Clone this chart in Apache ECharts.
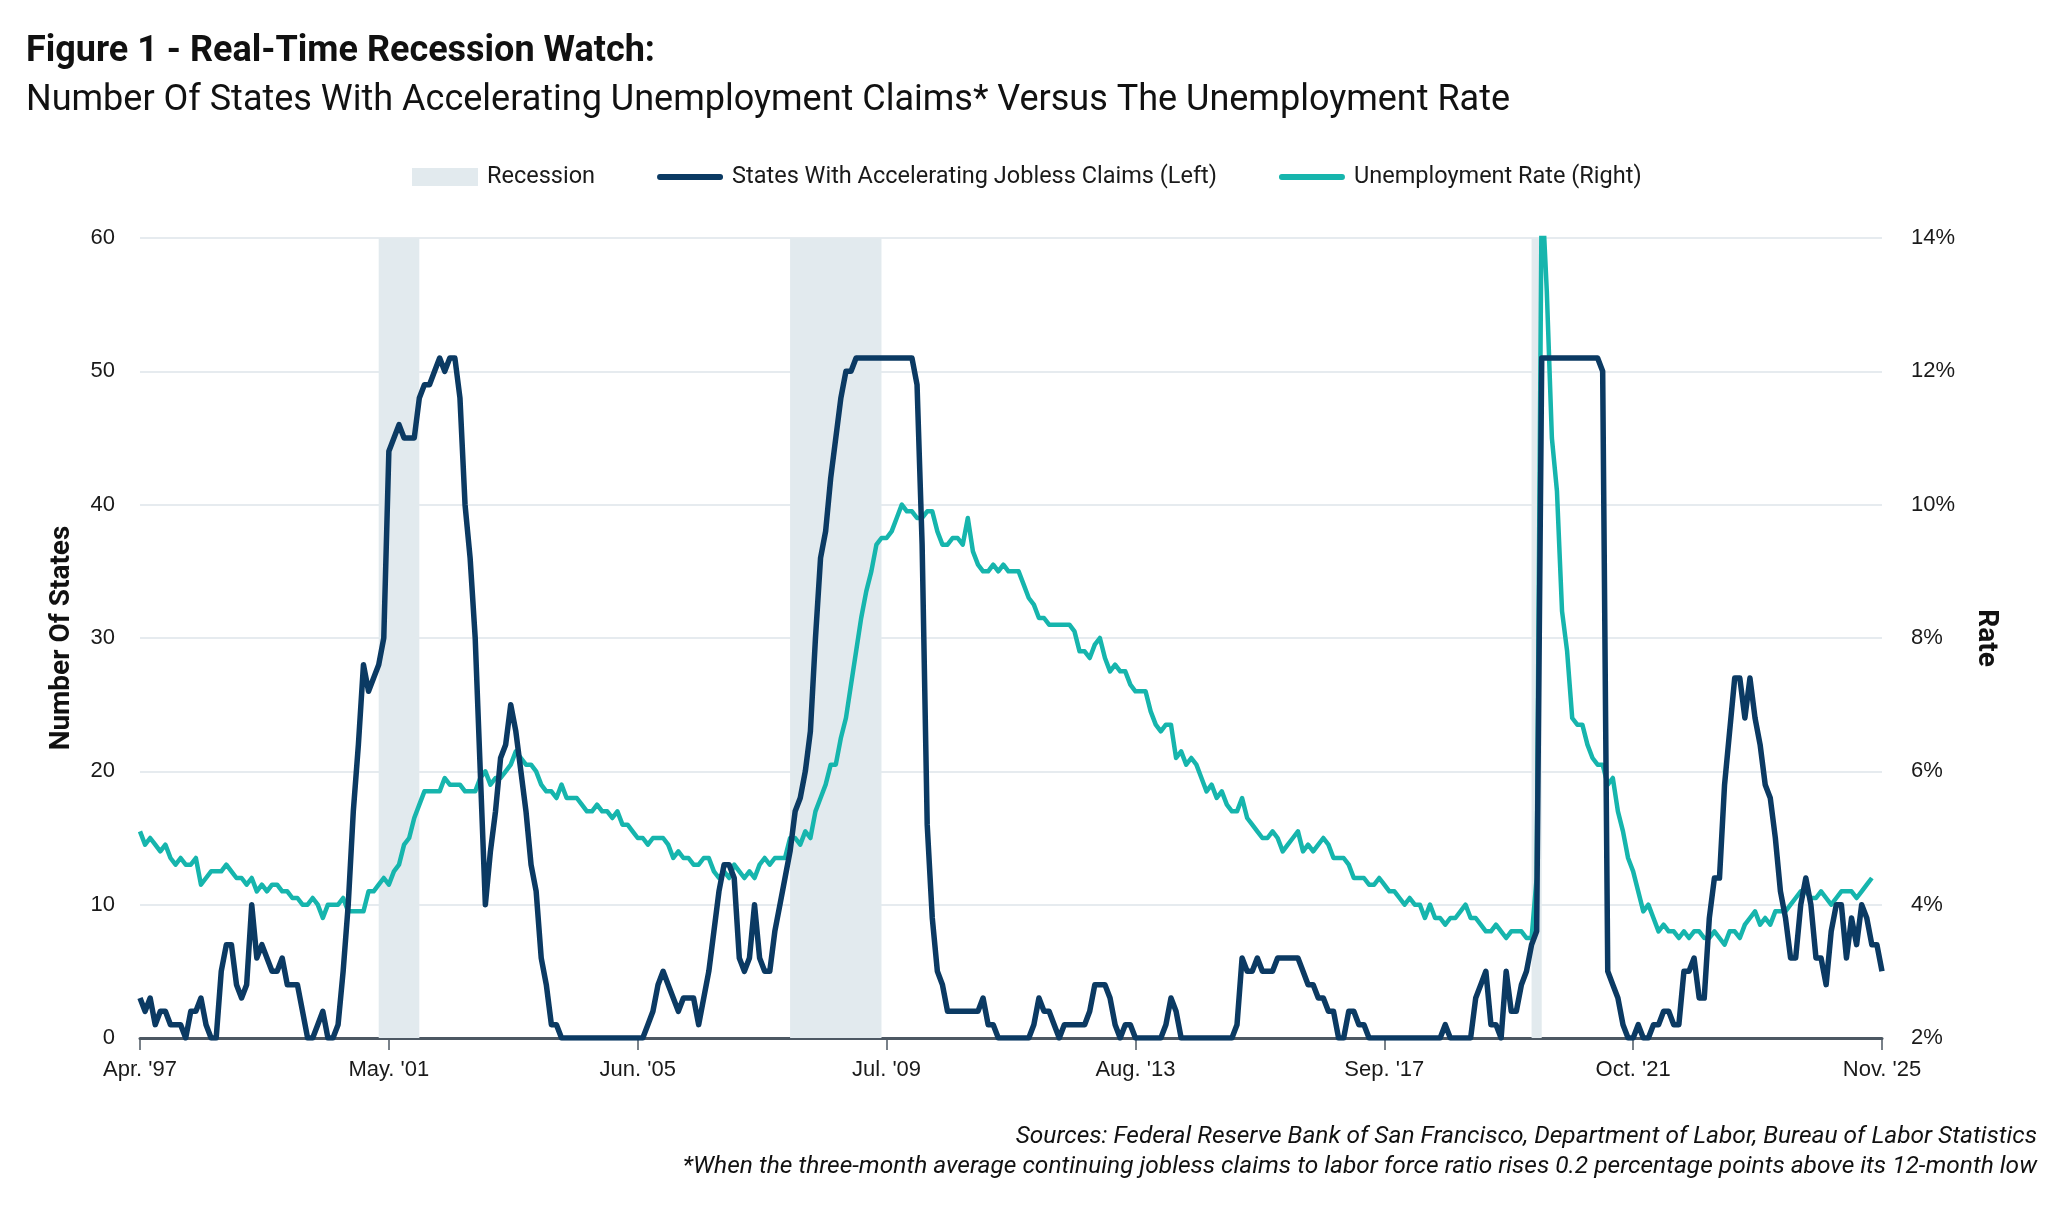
<!DOCTYPE html>
<html>
<head>
<meta charset="utf-8">
<title>Real-Time Recession Watch</title>
<script src="https://cdn.jsdelivr.net/npm/echarts@6.0.0/dist/echarts.min.js"></script>
<style>
  html, body { margin: 0; padding: 0; background: #ffffff; }
  #chart { width: 2048px; height: 1205px; }
</style>
</head>
<body>
<div id="chart"></div>
<script>
// monthly categories, Apr 1997 .. Nov 2025
const monthNames = ['Jan', 'Feb', 'Mar', 'Apr', 'May', 'Jun', 'Jul', 'Aug', 'Sep', 'Oct', 'Nov', 'Dec']
const months = []
for (let y = 1997, m = 3; y < 2025 || (y === 2025 && m <= 10);) {
  months.push(monthNames[m] + ". '" + String(y).slice(2))
  m++
  if (m === 12) { m = 0; y++ }
}

const xTickLabels = ["Apr. '97", "May. '01", "Jun. '05", "Jul. '09", "Aug. '13", "Sep. '17", "Oct. '21", "Nov. '25"]
const statesTicks = [0, 10, 20, 30, 40, 50, 60]
const rateTicks = [2, 4, 6, 8, 10, 12, 14]

const recessionStart = ["Mar. '01", "Dec. '07", "Feb. '20"]
const recessionEnd = ["Nov. '01", "Jun. '09", "Apr. '20"]

// number of states with accelerating claims (left axis)
const statesAccelerating = [
  3, 2, 3, 1, 2, 2, 1, 1, 1, 0,
  2, 2, 3, 1, 0, 0, 5, 7, 7, 4,
  3, 4, 10, 6, 7, 6, 5, 5, 6, 4,
  4, 4, 2, 0, 0, 1, 2, 0, 0, 1,
  5, 10, 17, 22, 28, 26, 27, 28, 30, 44,
  45, 46, 45, 45, 45, 48, 49, 49, 50, 51,
  50, 51, 51, 48, 40, 36, 30, 20, 10, 14,
  17, 21, 22, 25, 23, 20, 17, 13, 11, 6,
  4, 1, 1, 0, 0, 0, 0, 0, 0, 0,
  0, 0, 0, 0, 0, 0, 0, 0, 0, 0,
  1, 2, 4, 5, 4, 3, 2, 3, 3, 3,
  1, 3, 5, 8, 11, 13, 13, 12, 6, 5,
  6, 10, 6, 5, 5, 8, 10, 12, 14, 17,
  18, 20, 23, 30, 36, 38, 42, 45, 48, 50,
  50, 51, 51, 51, 51, 51, 51, 51, 51, 51,
  51, 51, 51, 49, 37, 16, 9, 5, 4, 2,
  2, 2, 2, 2, 2, 2, 3, 1, 1, 0,
  0, 0, 0, 0, 0, 0, 1, 3, 2, 2,
  1, 0, 1, 1, 1, 1, 1, 2, 4, 4,
  4, 3, 1, 0, 1, 1, 0, 0, 0, 0,
  0, 0, 1, 3, 2, 0, 0, 0, 0, 0,
  0, 0, 0, 0, 0, 0, 1, 6, 5, 5,
  6, 5, 5, 5, 6, 6, 6, 6, 6, 5,
  4, 4, 3, 3, 2, 2, 0, 0, 2, 2,
  1, 1, 0, 0, 0, 0, 0, 0, 0, 0,
  0, 0, 0, 0, 0, 0, 0, 1, 0, 0,
  0, 0, 0, 3, 4, 5, 1, 1, 0, 5,
  2, 2, 4, 5, 7, 8, 51, 51, 51, 51,
  51, 51, 51, 51, 51, 51, 51, 51, 50, 5,
  4, 3, 1, 0, 0, 1, 0, 0, 1, 1,
  2, 2, 1, 1, 5, 5, 6, 3, 3, 9,
  12, 12, 19, 23, 27, 27, 24, 27, 24, 22,
  19, 18, 15, 11, 9, 6, 6, 10, 12, 10,
  6, 6, 4, 8, 10, 10, 6, 9, 7, 10,
  9, 7, 7, 5
]

// unemployment rate, % (right axis)
const unemploymentRate = [
  5.1, 4.9, 5.0, 4.9, 4.8, 4.9, 4.7, 4.6, 4.7,                 // 1997
  4.6, 4.6, 4.7, 4.3, 4.4, 4.5, 4.5, 4.5, 4.6, 4.5, 4.4, 4.4,  // 1998
  4.3, 4.4, 4.2, 4.3, 4.2, 4.3, 4.3, 4.2, 4.2, 4.1, 4.1, 4.0,  // 1999
  4.0, 4.1, 4.0, 3.8, 4.0, 4.0, 4.0, 4.1, 3.9, 3.9, 3.9, 3.9,  // 2000
  4.2, 4.2, 4.3, 4.4, 4.3, 4.5, 4.6, 4.9, 5.0, 5.3, 5.5, 5.7,  // 2001
  5.7, 5.7, 5.7, 5.9, 5.8, 5.8, 5.8, 5.7, 5.7, 5.7, 5.9, 6.0,  // 2002
  5.8, 5.9, 5.9, 6.0, 6.1, 6.3, 6.2, 6.1, 6.1, 6.0, 5.8, 5.7,  // 2003
  5.7, 5.6, 5.8, 5.6, 5.6, 5.6, 5.5, 5.4, 5.4, 5.5, 5.4, 5.4,  // 2004
  5.3, 5.4, 5.2, 5.2, 5.1, 5.0, 5.0, 4.9, 5.0, 5.0, 5.0, 4.9,  // 2005
  4.7, 4.8, 4.7, 4.7, 4.6, 4.6, 4.7, 4.7, 4.5, 4.4, 4.5, 4.4,  // 2006
  4.6, 4.5, 4.4, 4.5, 4.4, 4.6, 4.7, 4.6, 4.7, 4.7, 4.7, 5.0,  // 2007
  5.0, 4.9, 5.1, 5.0, 5.4, 5.6, 5.8, 6.1, 6.1, 6.5, 6.8, 7.3,  // 2008
  7.8, 8.3, 8.7, 9.0, 9.4, 9.5, 9.5, 9.6, 9.8, 10.0, 9.9, 9.9, // 2009
  9.8, 9.8, 9.9, 9.9, 9.6, 9.4, 9.4, 9.5, 9.5, 9.4, 9.8, 9.3,  // 2010
  9.1, 9.0, 9.0, 9.1, 9.0, 9.1, 9.0, 9.0, 9.0, 8.8, 8.6, 8.5,  // 2011
  8.3, 8.3, 8.2, 8.2, 8.2, 8.2, 8.2, 8.1, 7.8, 7.8, 7.7, 7.9,  // 2012
  8.0, 7.7, 7.5, 7.6, 7.5, 7.5, 7.3, 7.2, 7.2, 7.2, 6.9, 6.7,  // 2013
  6.6, 6.7, 6.7, 6.2, 6.3, 6.1, 6.2, 6.1, 5.9, 5.7, 5.8, 5.6,  // 2014
  5.7, 5.5, 5.4, 5.4, 5.6, 5.3, 5.2, 5.1, 5.0, 5.0, 5.1, 5.0,  // 2015
  4.8, 4.9, 5.0, 5.1, 4.8, 4.9, 4.8, 4.9, 5.0, 4.9, 4.7, 4.7,  // 2016
  4.7, 4.6, 4.4, 4.4, 4.4, 4.3, 4.3, 4.4, 4.3, 4.2, 4.2, 4.1,  // 2017
  4.0, 4.1, 4.0, 4.0, 3.8, 4.0, 3.8, 3.8, 3.7, 3.8, 3.8, 3.9,  // 2018
  4.0, 3.8, 3.8, 3.7, 3.6, 3.6, 3.7, 3.6, 3.5, 3.6, 3.6, 3.6,  // 2019
  3.5, 3.5, 4.4, 14.8, 13.2, 11.0, 10.2, 8.4, 7.8, 6.8, 6.7, 6.7, // 2020
  6.4, 6.2, 6.1, 6.1, 5.8, 5.9, 5.4, 5.1, 4.7, 4.5, 4.2, 3.9,  // 2021
  4.0, 3.8, 3.6, 3.7, 3.6, 3.6, 3.5, 3.6, 3.5, 3.6, 3.6, 3.5,  // 2022
  3.5, 3.6, 3.5, 3.4, 3.6, 3.6, 3.5, 3.7, 3.8, 3.9, 3.7, 3.8,  // 2023
  3.7, 3.9, 3.9, 3.9, 4.0, 4.1, 4.2, 4.2, 4.1, 4.1, 4.2, 4.1,  // 2024
  4.0, 4.1, 4.2, 4.2, 4.2, 4.1, 4.2, 4.3, 4.4, null, null      // 2025
]

const NAVY = '#0b3a63'
const TEAL = '#16b5ad'
const BAND = '#e2eaee'
const TEXT_FONT = 'Roboto'
const TICK_FONT = 'Liberation Sans'
// thin rounded bar used as the legend swatch of the two lines
const LINE_ICON = 'path://M3,0 L65,0 A3,3 0 0 1 65,6 L3,6 A3,3 0 0 1 3,0 Z'

const chart = echarts.init(document.getElementById('chart'))

const option = {
  animation: false,
  backgroundColor: '#ffffff',
  title: [
    {
      text: 'Figure 1 - Real-Time Recession Watch:',
      left: 21,
      top: 29,
      textStyle: { fontFamily: TEXT_FONT, fontWeight: 'bold', fontSize: 36, color: '#111111' }
    },
    {
      text: 'Number Of States With Accelerating Unemployment Claims* Versus The Unemployment Rate',
      left: 21,
      top: 78,
      textStyle: { fontFamily: TEXT_FONT, fontWeight: 'normal', fontSize: 36, color: '#111111' }
    },
    {
      text: 'Sources: Federal Reserve Bank of San Francisco, Department of Labor, Bureau of Labor Statistics',
      right: 6,
      top: 1119,
      textStyle: { fontFamily: TEXT_FONT, fontStyle: 'italic', fontWeight: 'normal', fontSize: 24.5, color: '#111111' }
    },
    {
      text: '*When the three-month average continuing jobless claims to labor force ratio rises 0.2 percentage points above its 12-month low',
      right: 6,
      top: 1149,
      textStyle: { fontFamily: TEXT_FONT, fontStyle: 'italic', fontWeight: 'normal', fontSize: 24.5, color: '#111111' }
    }
  ],
  legend: {
    left: 407,
    top: 160,
    itemWidth: 66,
    itemHeight: 18,
    itemGap: 62,
    symbolKeepAspect: true,
    textStyle: { fontFamily: TEXT_FONT, fontSize: 23.5, color: '#1a1a1a', padding: [0, 0, 0, 4] },
    data: [
      { name: 'Recession', icon: 'rect' },
      { name: 'States With Accelerating Jobless Claims (Left)', icon: LINE_ICON },
      { name: 'Unemployment Rate (Right)', icon: LINE_ICON }
    ]
  },
  grid: {
    left: 140,
    right: 166,
    top: 238,
    bottom: 167
  },
  xAxis: {
    type: 'category',
    data: months,
    boundaryGap: false,
    axisLine: { show: true, lineStyle: { color: '#4d5863', width: 3 } },
    axisTick: {
      show: true,
      length: 12,
      interval: (idx, val) => xTickLabels.includes(val),
      lineStyle: { color: '#4d5863', width: 1.5 }
    },
    axisLabel: {
      interval: (idx, val) => xTickLabels.includes(val),
      margin: 21,
      fontFamily: TICK_FONT,
      fontSize: 22,
      color: '#1a1a1a'
    },
    splitLine: { show: false }
  },
  yAxis: [
    {
      type: 'value',
      position: 'left',
      min: statesTicks[0],
      max: statesTicks[statesTicks.length - 1],
      interval: statesTicks[1] - statesTicks[0],
      name: 'Number Of States',
      nameLocation: 'middle',
      nameRotate: 90,
      nameGap: 64,
      nameTextStyle: { fontFamily: TEXT_FONT, fontWeight: 'bold', fontSize: 28, color: '#111111' },
      axisLine: { show: false },
      axisTick: { show: false },
      axisLabel: { margin: 25, fontFamily: TICK_FONT, fontSize: 22, color: '#1a1a1a' },
      splitLine: { show: true, lineStyle: { color: '#e6ebef', width: 2 } }
    },
    {
      type: 'value',
      position: 'right',
      min: rateTicks[0],
      max: rateTicks[rateTicks.length - 1],
      interval: rateTicks[1] - rateTicks[0],
      name: 'Rate',
      nameLocation: 'middle',
      nameRotate: -90,
      nameGap: 90,
      nameTextStyle: { fontFamily: TEXT_FONT, fontWeight: 'bold', fontSize: 28, color: '#111111' },
      axisLine: { show: false },
      axisTick: { show: false },
      axisLabel: { margin: 29, formatter: '{value}%', fontFamily: TICK_FONT, fontSize: 22, color: '#1a1a1a' },
      splitLine: { show: false }
    }
  ],
  series: [
    {
      // legend entry only, the shaded bands are the markArea below
      name: 'Recession',
      type: 'bar',
      data: [],
      itemStyle: { color: BAND }
    },
    {
      name: 'Unemployment Rate (Right)',
      type: 'line',
      yAxisIndex: 1,
      data: unemploymentRate,
      symbol: 'none',
      z: 3,
      lineStyle: { color: TEAL, width: 4.5, join: 'round' },
      itemStyle: { color: TEAL },
      markArea: {
        silent: true,
        z: 1,
        itemStyle: { color: BAND, opacity: 1 },
        data: recessionStart.map((s, i) => [
          { xAxis: months.indexOf(s) },
          { xAxis: months.indexOf(recessionEnd[i]) }
        ])
      }
    },
    {
      name: 'States With Accelerating Jobless Claims (Left)',
      type: 'line',
      yAxisIndex: 0,
      data: statesAccelerating,
      symbol: 'none',
      z: 4,
      lineStyle: { color: NAVY, width: 5.5, join: 'round' },
      itemStyle: { color: NAVY }
    }
  ]
}

chart.setOption(option)
</script>
</body>
</html>
